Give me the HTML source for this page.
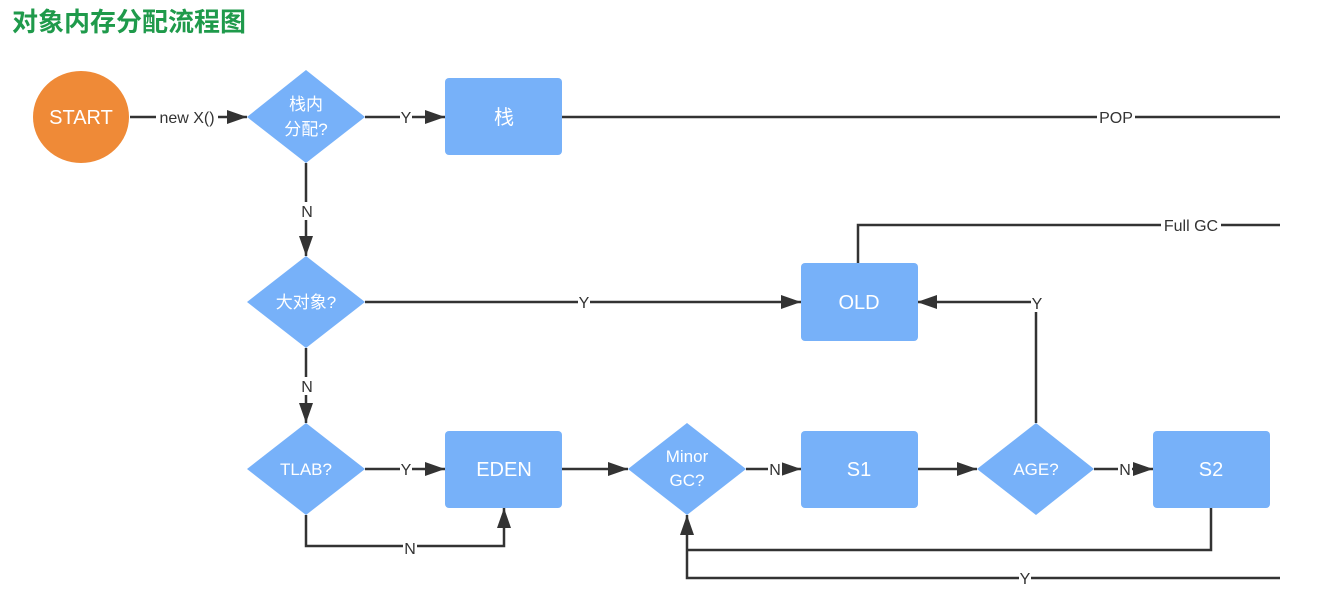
<!DOCTYPE html>
<html><head><meta charset="utf-8"><style>
html,body{margin:0;padding:0;background:#fff;width:1340px;height:596px;overflow:hidden}
svg text{font-family:"Liberation Sans","Noto Sans CJK SC",sans-serif}
</style></head><body>
<svg width="1340" height="596" viewBox="0 0 1340 596" xmlns="http://www.w3.org/2000/svg">
<defs>
<marker id="b" markerWidth="20" markerHeight="14" refX="20" refY="7" orient="auto" markerUnits="userSpaceOnUse" viewBox="0 0 20 14"><path d="M0,0 L20,7 L0,14 z" fill="#333"/></marker></defs>
<text x="12" y="31" font-size="26" font-weight="bold" fill="#1f9a4b">对象内存分配流程图</text>
<g stroke="#333" stroke-width="2.5" fill="none">
<line x1="130" y1="117" x2="247" y2="117" marker-end="url(#b)"/>
<line x1="365" y1="117" x2="445" y2="117" marker-end="url(#b)"/>
<line x1="562" y1="117" x2="1280" y2="117"/>
<line x1="306" y1="163" x2="306" y2="256" marker-end="url(#b)"/>
<line x1="365" y1="302" x2="801" y2="302" marker-end="url(#b)"/>
<polyline points="858,263 858,225 1280,225"/>
<line x1="306" y1="348" x2="306" y2="423" marker-end="url(#b)"/>
<line x1="365" y1="469" x2="445" y2="469" marker-end="url(#b)"/>
<polyline points="306,515 306,546 504,546 504,508" marker-end="url(#b)"/>
<line x1="562" y1="469" x2="628" y2="469" marker-end="url(#b)"/>
<line x1="746" y1="469" x2="801" y2="469" marker-end="url(#b)"/>
<line x1="917" y1="469" x2="977" y2="469" marker-end="url(#b)"/>
<polyline points="1036,423 1036,302 917,302" marker-end="url(#b)"/>
<line x1="1094" y1="469" x2="1153" y2="469" marker-end="url(#b)"/>
<polyline points="1211,508 1211,550 687,550"/>
<polyline points="1280,578 687,578 687,515" marker-end="url(#b)"/>
</g>
<g font-size="16" fill="#333" text-anchor="middle">
<rect x="156" y="108" width="62" height="18" fill="#fff"/><text x="187" y="123">new X()</text>
<rect x="400" y="108" width="12" height="18" fill="#fff"/><text x="406" y="123">Y</text>
<rect x="1097" y="108" width="38" height="18" fill="#fff"/><text x="1116" y="123">POP</text>
<rect x="1161" y="216" width="60" height="18" fill="#fff"/><text x="1191" y="231">Full GC</text>
<rect x="300" y="202" width="14" height="18" fill="#fff"/><text x="307" y="217">N</text>
<rect x="578" y="293" width="12" height="18" fill="#fff"/><text x="584" y="308">Y</text>
<rect x="300" y="377" width="14" height="18" fill="#fff"/><text x="307" y="392">N</text>
<rect x="400" y="460" width="12" height="18" fill="#fff"/><text x="406" y="475">Y</text>
<rect x="403" y="539" width="14" height="18" fill="#fff"/><text x="410" y="554">N</text>
<rect x="768" y="460" width="14" height="18" fill="#fff"/><text x="775" y="475">N</text>
<rect x="1031" y="294" width="12" height="18" fill="#fff"/><text x="1037" y="309">Y</text>
<rect x="1118" y="460" width="14" height="18" fill="#fff"/><text x="1125" y="475">N</text>
<rect x="1019" y="569" width="12" height="18" fill="#fff"/><text x="1025" y="584">Y</text>
</g>
<ellipse cx="81" cy="117" rx="48" ry="46" fill="#ef8a37"/>
<g fill="#77b1f9">
<polygon points="306,70 365,117 306,163 247,117"/>
<rect x="445" y="78" width="117" height="77" rx="4"/>
<polygon points="306,256 365,302 306,348 247,302"/>
<rect x="801" y="263" width="117" height="78" rx="4"/>
<polygon points="306,423 365,469 306,515 247,469"/>
<rect x="445" y="431" width="117" height="77" rx="4"/>
<polygon points="687,423 746,469 687,515 628,469"/>
<rect x="801" y="431" width="117" height="77" rx="4"/>
<polygon points="1036,423 1094,469 1036,515 977,469"/>
<rect x="1153" y="431" width="117" height="77" rx="4"/>
</g>
<g fill="#fff" text-anchor="middle" font-size="20">
<text x="81" y="124">START</text>
<text x="306" y="110" font-size="17">栈内</text><text x="306" y="135" font-size="17">分配?</text>
<text x="504" y="124">栈</text>
<text x="306" y="308" font-size="17">大对象?</text>
<text x="859" y="309">OLD</text>
<text x="306" y="475" font-size="17">TLAB?</text>
<text x="504" y="476">EDEN</text>
<text x="687" y="462" font-size="17">Minor</text><text x="687" y="486" font-size="17">GC?</text>
<text x="859" y="476">S1</text>
<text x="1036" y="475" font-size="17">AGE?</text>
<text x="1211" y="476">S2</text>
</g>
</svg>
</body></html>
